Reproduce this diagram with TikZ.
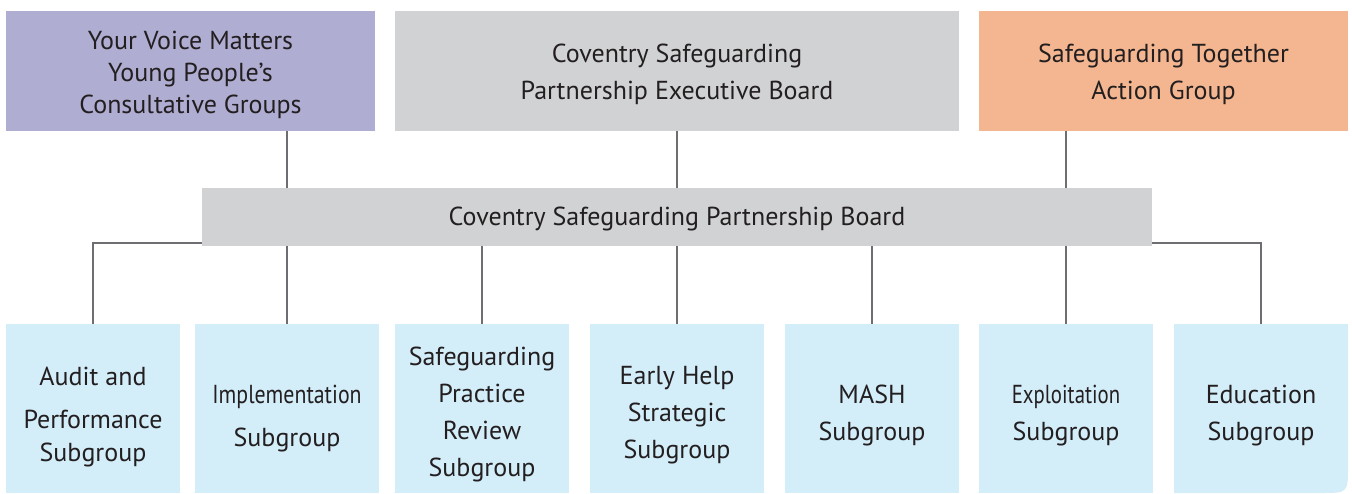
\documentclass[tikz,border=0pt]{standalone}
\usepackage{fontspec}
\setmainfont{PT Sans}

\definecolor{voicepurple}{HTML}{AFADD2}
\definecolor{boardgray}{HTML}{D1D2D4}
\definecolor{actionorange}{HTML}{F3B690}
\definecolor{subblue}{HTML}{D3EDF9}
\definecolor{linkgray}{HTML}{6D6E71}
\definecolor{textdark}{HTML}{231F20}

\begin{document}
\begin{tikzpicture}[x=0.5pt, y=-0.5pt,
  box/.style={rectangle, inner sep=0pt, align=center, text=textdark, font=\fontsize{13}{18.5}\selectfont, text depth=0pt},
  topbox/.style={box, minimum height=60pt, text height=28.3pt},
  subbox/.style={box, fill=subblue, minimum width=87pt, minimum height=84.5pt},
  link/.style={draw=linkgray, line width=1pt}]
  \useasboundingbox (0,0) rectangle (1352,493);

  % Draw the top row of groups
  \node[topbox, fill=voicepurple, minimum width=184.5pt, font=\fontsize{13}{16}\selectfont, text height=42.5pt] (voice) at (190.5,71) {Your Voice Matters\\Young People’s\\Consultative Groups};
  \node[topbox, fill=boardgray, minimum width=282pt] (exec) at (677,71) {Coventry Safeguarding\\Partnership Executive Board};
  \node[topbox, fill=actionorange, minimum width=184.5pt] (action) at (1163.5,71) {Safeguarding Together\\Action Group};

  % Draw the partnership board
  \node[box, fill=boardgray, minimum width=475pt, minimum height=29pt, text height=8.5pt] (board) at (677,217) {Coventry Safeguarding Partnership Board};

  % Draw the subgroups
  \node[subbox, text height=52.5pt] (audit) at (93,408.5) {Audit and\\[3pt]Performance\\[-2pt]Subgroup};
  \node[subbox, minimum width=92pt, text height=38.2pt] (impl) at (287,408.5) {\scalebox{0.84}[1]{Implementation}\\[3pt]Subgroup};
  \node[subbox, text height=68.2pt] (spr) at (482,408.5) {Safeguarding\\Practice\\Review\\Subgroup};
  \node[subbox, text height=50.2pt] (early) at (677,408.5) {Early Help\\Strategic\\Subgroup};
  \node[subbox, text height=31.5pt] (mash) at (872,408.5) {MASH\\Subgroup};
  \node[subbox, text height=31.5pt] (exploit) at (1066,408.5) {\scalebox{0.8}[1]{Exploitation}\\Subgroup};

  % The education box has one rounded corner
  \fill[subblue] (1174,324) -- (1348,324) -- (1348,466) .. controls (1348,493) .. (1321,493) -- (1174,493) -- cycle;
  \node[subbox, fill=none, text height=32.2pt] (edu) at (1261,408.5) {Education\\Subgroup};

  % Draw the links
  \draw[link] (voice.south -| impl) -- (board.north -| impl);
  \draw[link] (exec.south) -- (board.north);
  \draw[link] (action.south -| exploit) -- (board.north -| exploit);
  \draw[link] ([yshift=1.5pt]board.south west) -| (audit.north);
  \draw[link] ([yshift=1.5pt]board.south east) -| (edu.north);
  \foreach \sub in {impl, spr, early, mash, exploit}
    \draw[link] (board.south -| \sub.north) -- (\sub.north);
\end{tikzpicture}
\end{document}
